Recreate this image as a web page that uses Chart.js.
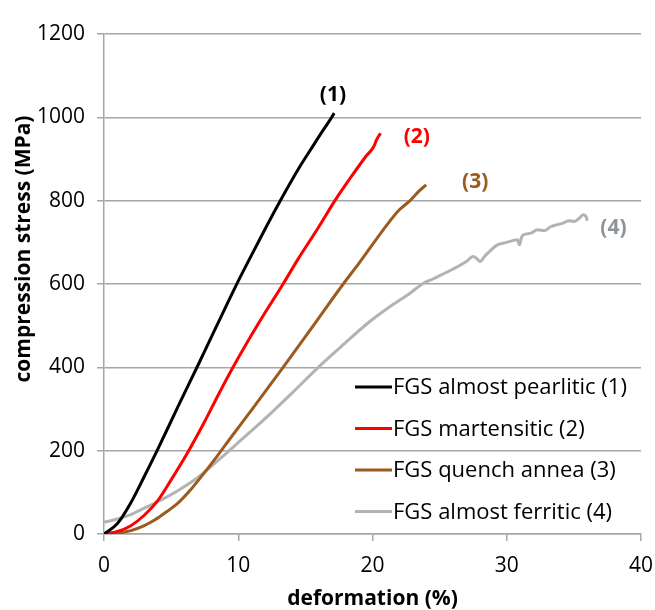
<!DOCTYPE html>
<html>
<head>
<meta charset="utf-8">
<script src="https://cdn.jsdelivr.net/npm/chart.js@4.4.1/dist/chart.umd.min.js"></script>
<style>
  html, body { margin: 0; padding: 0; background: #ffffff; }
  #wrap { width: 655px; height: 610px; position: relative; }
</style>
</head>
<body>
<div id="wrap"><canvas id="c" width="655" height="610"></canvas></div>
<script>
// ---------- data ----------
const seriesNames = [
  "FGS almost pearlitic (1)",
  "FGS martensitic (2)",
  "FGS quench annea (3)",
  "FGS almost ferritic (4)"
];
const curveTags = ["(1)", "(2)", "(3)", "(4)"];

const pearliticX = [0, 1, 2, 3, 4, 5.5, 7.0, 8.4, 9.86, 11.0, 12.0, 13.1, 14.59, 15.5, 16.3, 16.8, 17.15];
const pearliticY = [0, 25, 75, 138, 203, 305, 405, 500, 598, 670, 732, 798, 882, 928, 968, 992, 1010];

const martensiticX = [0, 1, 2, 3, 4, 5, 6.31, 7.5, 8.5, 9.61, 11.5, 13.34, 14.5, 15.96, 17.2, 18.3, 19.5, 20.1, 20.3, 20.6];
const martensiticY = [0, 6, 20, 45, 80, 130, 200, 270, 333, 400, 505, 600, 662, 735, 800, 852, 906, 930, 946, 962];

const quenchX = [0, 1, 2, 3, 3.8, 4.6, 5.5, 6.5, 7.5, 8.5, 9.37, 11, 13.34, 15.5, 17.82, 19, 20.8, 22.0, 22.8, 23.5, 24.0];
const quenchY = [0, 2, 8, 20, 34, 52, 74, 108, 148, 190, 228, 298, 400, 496, 600, 650, 730, 778, 800, 824, 838];

const ferriticX = [0, 1, 1.78, 3, 4.27, 5.5, 6.75, 7.9, 8.8, 9.6, 11, 12.5, 14, 15.96, 17.5, 19.8, 21.5, 22.8, 23.8, 24.5, 25.0, 26, 27, 27.5, 27.8, 28.0, 28.4, 29.3, 30, 30.8, 30.95, 31.1, 31.25, 31.8, 32.3, 32.8, 33.3, 33.7, 34.2, 34.6, 35.0, 35.4, 35.7, 35.9, 36.0];
const ferriticY = [28, 36, 44, 62, 82, 104, 130, 160, 185, 208, 248, 292, 338, 400, 445, 510, 550, 578, 602, 612, 620, 636, 654, 666, 660, 654, 668, 694, 700, 706, 694, 712, 718, 722, 730, 728, 738, 742, 746, 752, 750, 758, 766, 762, 752];

const xTicks = [0, 10, 20, 30, 40];
const yTicks = [0, 200, 400, 600, 800, 1000, 1200];

// anchors of the "(n)" tags, in data units (x %, y MPa)
const tagX = [17.05, 23.3, 27.65, 37.95];
const tagY = [1053, 953, 845, 734];

// ---------- styling ----------
const colors = ["#000000", "#ff0000", "#9c5b1e", "#b3b3b3"];
const tagColors = ["#000000", "#ff0000", "#9c5b1e", "#8d9499"];
const gridColor = "#a6a6a6";
const FONT = "'Open Sans', 'DejaVu Sans', sans-serif";

function pts(xs, ys) { return xs.map((x, i) => ({ x: x, y: ys[i] })); }
const seriesX = [pearliticX, martensiticX, quenchX, ferriticX];
const seriesY = [pearliticY, martensiticY, quenchY, ferriticY];

const datasets = seriesNames.map((name, i) => ({
  label: name,
  data: pts(seriesX[i], seriesY[i]),
  showLine: true,
  borderColor: colors[i],
  backgroundColor: colors[i],
  borderWidth: 3,
  pointRadius: 0,
  fill: false,
  cubicInterpolationMode: 'monotone'
}));

const overlay = {
  id: 'overlay',
  afterDraw(chart) {
    const ctx = chart.ctx;
    const xs = chart.scales.x, ys = chart.scales.y;
    const area = chart.chartArea;
    ctx.save();
    // y axis title
    ctx.save();
    ctx.translate(24, area.top + 215);
    ctx.rotate(-Math.PI / 2);
    ctx.font = "bold 21px " + FONT;
    ctx.fillStyle = "#000";
    ctx.textAlign = "center";
    ctx.textBaseline = "middle";
    ctx.fillText("compression stress (MPa)", 0, 0);
    ctx.restore();

    // curve tags
    ctx.font = "bold 21px " + FONT;
    ctx.textAlign = "center";
    ctx.textBaseline = "middle";
    curveTags.forEach((t, i) => {
      ctx.fillStyle = tagColors[i];
      ctx.fillText(t, xs.getPixelForValue(tagX[i]), ys.getPixelForValue(tagY[i]));
    });

    // legend inside plot
    ctx.font = "22px " + FONT;
    ctx.textAlign = "left";
    ctx.textBaseline = "middle";
    const lx = area.left + 251, ly = area.top + 353, dy = 41.5;
    chart.data.datasets.forEach((ds, i) => {
      const y = ly + i * dy;
      ctx.strokeStyle = ds.borderColor;
      ctx.lineWidth = 3;
      ctx.beginPath();
      ctx.moveTo(lx, y);
      ctx.lineTo(lx + 37, y);
      ctx.stroke();
      ctx.fillStyle = "#000";
      ctx.fillText(ds.label, lx + 38, y + 1);
    });
    ctx.restore();
  }
};

new Chart(document.getElementById('c'), {
  type: 'scatter',
  data: { datasets: datasets },
  options: {
    responsive: false,
    animation: false,
    devicePixelRatio: 1,
    layout: { padding: { left: 0, right: 14, top: 34, bottom: 0 } },
    plugins: {
      legend: { display: false },
      tooltip: { enabled: false }
    },
    scales: {
      x: {
        type: 'linear',
        min: xTicks[0], max: xTicks[xTicks.length - 1],
        afterBuildTicks: s => { s.ticks = xTicks.map(v => ({ value: v })); },
        afterFit: s => { s.height = 76; s.paddingRight = 0; s.paddingLeft = 0; },
        grid: { display: true, drawOnChartArea: false, drawTicks: true, tickLength: 7, color: gridColor, lineWidth: 1.5 },
        border: { display: true, color: gridColor, width: 1.5 },
        ticks: { color: "#000", font: { family: FONT, size: 21 }, padding: 12, maxRotation: 0, callback: v => String(v) },
        title: { display: true, text: "deformation (%)", color: "#000", font: { family: FONT, size: 21, weight: 'bold', lineHeight: 1.0 }, padding: { top: 0, bottom: 0 } }
      },
      y: {
        type: 'linear',
        min: yTicks[0], max: yTicks[yTicks.length - 1],
        afterBuildTicks: s => { s.ticks = yTicks.map(v => ({ value: v })); },
        afterFit: s => { s.width = 104; s.paddingTop = 0; s.paddingBottom = 0; },
        grid: { display: true, drawTicks: true, tickLength: 7, color: gridColor, lineWidth: 1.5 },
        border: { display: true, color: gridColor, width: 1.5 },
        ticks: { color: "#000", font: { family: FONT, size: 21 }, padding: 12, callback: v => String(v) }
      }
    }
  },
  plugins: [overlay]
});
</script>
</body>
</html>
